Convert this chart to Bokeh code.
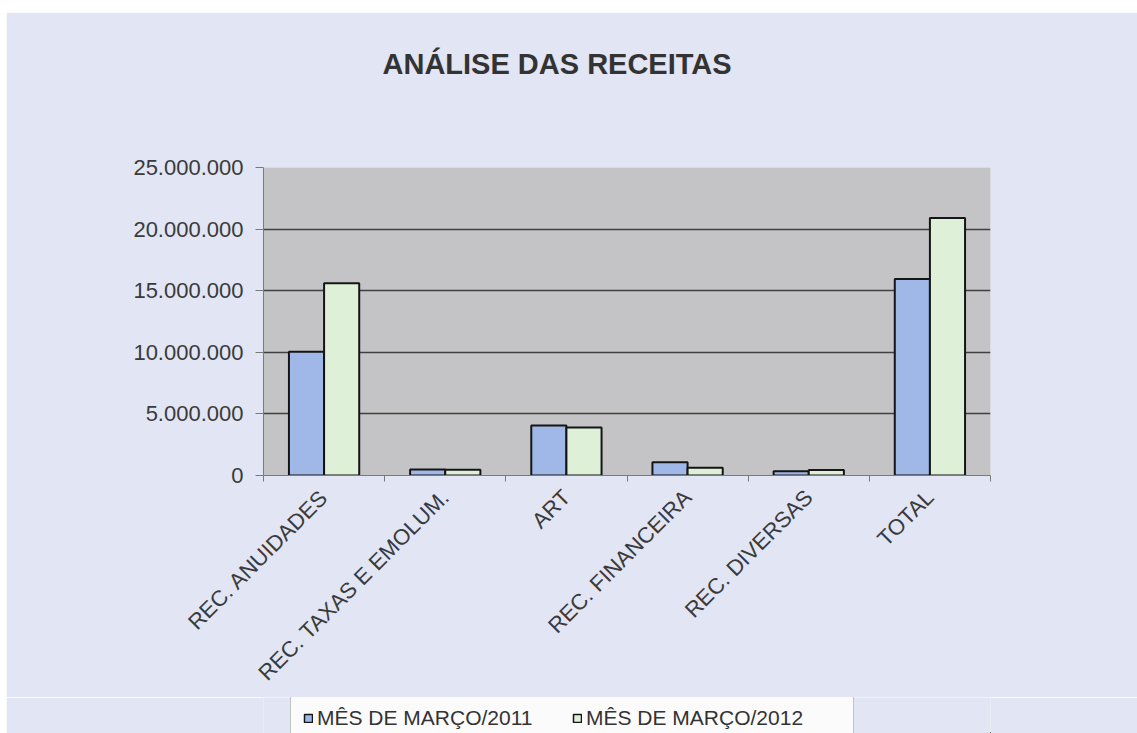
import math
from bokeh.plotting import figure
from bokeh.layouts import column
from bokeh.models import ColumnDataSource, FixedTicker, Range1d, Legend, LegendItem, Title
from bokeh.transform import dodge
from bokeh.embed import file_html
from bokeh.resources import INLINE

# ---- data ----
categories = ["REC. ANUIDADES", "REC. TAXAS E EMOLUM.", "ART",
              "REC. FINANCEIRA", "REC. DIVERSAS", "TOTAL"]
marco_2011 = [10050000, 480000, 4050000, 1080000, 350000, 15950000]
marco_2012 = [15600000, 470000, 3900000, 620000, 450000, 20900000]
series_names = ["MÊS DE MARÇO/2011", "MÊS DE MARÇO/2012"]
y_ticks = [0, 5000000, 10000000, 15000000, 20000000, 25000000]
y_tick_labels = ["0", "5.000.000", "10.000.000", "15.000.000", "20.000.000", "25.000.000"]
title_text = "ANÁLISE DAS RECEITAS"

# ---- styling ----
FONT = "Liberation Sans"
TEXT_COLOR = "#333333"
BG = "#e1e5f4"
PLOT_BG = "#c4c4c6"
C2011 = "#a0b8e8"
C2012 = "#def0d8"

n = len(categories)
centers = [i + 0.5 for i in range(n)]
source = ColumnDataSource(dict(x=centers, cat=categories, s2011=marco_2011, s2012=marco_2012))

W = 1131
p = figure(width=W, height=685, output_backend="svg", toolbar_location=None,
           x_range=Range1d(0, n), y_range=Range1d(0, 25000000),
           min_border_left=257, min_border_right=147, min_border_top=154,
           min_border_bottom=222)

p.background_fill_color = PLOT_BG
p.border_fill_color = BG
p.outline_line_color = None

# spacer next to the plot area, then the title above it
spacer = Title(text=" ", text_font_size="1px", standoff=52, text_color=BG)
p.add_layout(spacer, "above")
t = Title(text=title_text, align="left", text_font=FONT,
          text_font_size="29px", text_font_style="bold", text_color=TEXT_COLOR,
          standoff=66, offset=119)
p.add_layout(t, "above")

bar_w = 0.29
r1 = p.vbar(x=dodge("x", -bar_w / 2, range=p.x_range), top="s2011", width=bar_w,
            source=source, fill_color=C2011, line_color="#151515", line_width=2)
r2 = p.vbar(x=dodge("x", bar_w / 2, range=p.x_range), top="s2012", width=bar_w,
            source=source, fill_color=C2012, line_color="#151515", line_width=2)

# grid
p.xgrid.visible = False
p.ygrid.ticker = FixedTicker(ticks=y_ticks)
p.ygrid.grid_line_color = "#404040"
p.ygrid.grid_line_width = 1.5
p.ygrid.level = "underlay"

# y axis
ya = p.yaxis[0]
ya.ticker = FixedTicker(ticks=y_ticks)
ya.major_label_overrides = {float(v): s for v, s in zip(y_ticks, y_tick_labels)}
ya.major_label_text_font = FONT
ya.major_label_text_font_size = "22px"
ya.major_label_text_color = "#3a3a3a"
ya.axis_line_color = "#7a7a7a"
ya.major_tick_line_color = "#7a7a7a"
ya.major_tick_in = 0
ya.major_tick_out = 8
ya.minor_tick_line_color = None
ya.major_label_standoff = 12

# x axis
xa = p.xaxis[0]
xa.ticker = FixedTicker(ticks=centers, minor_ticks=list(range(n + 1)))
xa.major_label_overrides = {float(c): s for c, s in zip(centers, categories)}
xa.major_label_orientation = math.pi / 4
xa.major_label_text_font = FONT
xa.major_label_text_font_size = "22px"
xa.major_label_text_color = "#3a3a3a"
xa.axis_line_color = "#7a7a7a"
xa.major_tick_line_color = None
xa.minor_tick_line_color = "#7a7a7a"
xa.minor_tick_in = 0
xa.minor_tick_out = 6
xa.major_label_standoff = 12

# ---- legend strip (separate figure under the chart) ----
p2 = figure(width=W, height=36, output_backend="svg", toolbar_location=None,
            x_range=Range1d(0, 1), y_range=Range1d(1e9, 2e9),
            x_axis_location=None, y_axis_location=None,
            min_border_left=0, min_border_right=0, min_border_top=0, min_border_bottom=0)
p2.background_fill_color = BG
p2.border_fill_color = BG
p2.outline_line_color = None
p2.grid.visible = False
# same series, drawn out of view so that only their legend keys show
l1 = p2.vbar(x="x", top="s2011", width=bar_w, source=source,
             fill_color=C2011, line_color="#151515", line_width=1.5)
l2 = p2.vbar(x="x", top="s2012", width=bar_w, source=source,
             fill_color=C2012, line_color="#151515", line_width=1.5)

legend = Legend(items=[LegendItem(label=series_names[0], renderers=[l1]),
                       LegendItem(label=series_names[1], renderers=[l2])],
                orientation="horizontal", location=(27, -10),
                glyph_width=10, glyph_height=10, label_standoff=4, spacing=0,
                label_width=255, padding=12, margin=0, label_height=21,
                label_text_font=FONT, label_text_font_size="21px",
                label_text_color=TEXT_COLOR,
                background_fill_color="#fbfbfb", background_fill_alpha=1.0,
                border_line_color="#8a8a8a", border_line_width=1)
p2.add_layout(legend)

layout = column(p, p2, spacing=0, styles={"margin-top": "12px", "margin-left": "6px"})

open("out.html", "w").write(file_html(layout, INLINE))
